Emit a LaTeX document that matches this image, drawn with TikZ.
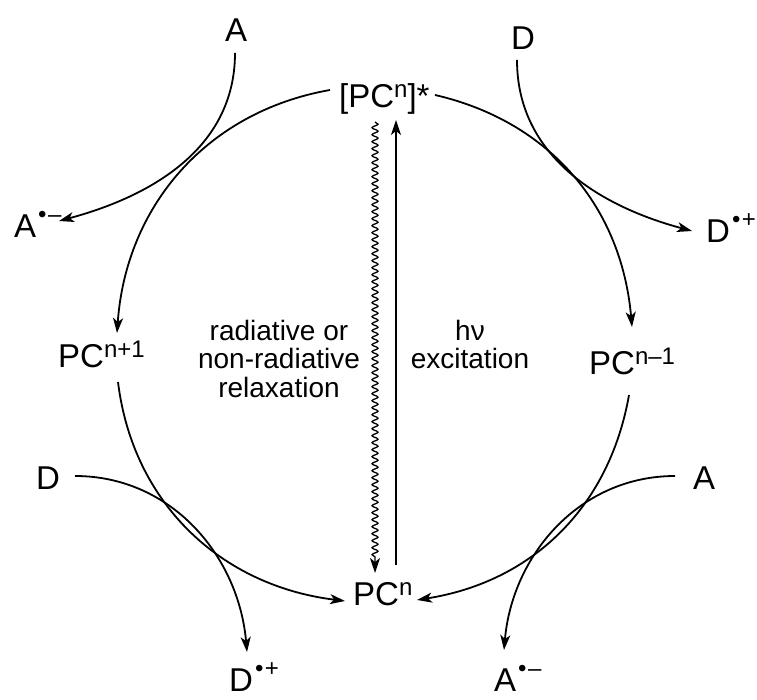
\documentclass[tikz,border=0pt]{standalone}
\usepackage{fontspec}
\setmainfont{Liberation Sans}
\usetikzlibrary{arrows.meta,decorations.pathmorphing}

\newcommand{\chsup}[1]{\raisebox{10pt}{\fontsize{24}{24}\selectfont #1}}
\newcommand{\rad}[1]{\raisebox{15pt}{\fontsize{24}{24}\selectfont\hspace{2pt}•\hspace{1.5pt}#1}}

\tikzset{
  species/.style={font=\fontsize{33}{36}\selectfont, inner sep=1pt, anchor=base west},
  note/.style={font=\fontsize{28}{28}\selectfont, align=center, inner sep=1pt},
  flow/.style={line width=1.8pt, -{Stealth[length=15pt,width=10pt,inset=4pt]}},
  wavy/.style={flow, line width=1.3pt, decorate, decoration={snake, amplitude=3pt, segment length=7pt, post length=15pt}}
}

\begin{document}
\begin{tikzpicture}[x=1pt,y=1pt]
\useasboundingbox (0,0) rectangle (757,700);

\node[species] (pcstar) at (338,592) {[PC\chsup{n}]*};
\node[species] (pcplus) at (57,332) {PC\chsup{n+1}};
\node[species] (pcminus) at (588,325) {PC\chsup{n–1}};
\node[species] (pcn) at (352,94) {PC\chsup{n}};
\node[species] (atop) at (224,658) {A};
\node[species] (dtop) at (510,650) {D};
\node[species] (aminus1) at (13,462) {A\rad{–}};
\node[species] (dplus1) at (705,457) {D\rad{+}};
\node[species] (dbot) at (35,210) {D};
\node[species] (abot) at (692,210) {A};
\node[species] (dplus2) at (228,8) {D\rad{+}};
\node[species] (aminus2) at (493,8) {A\rad{–}};
\node[note] (relax) at (279,341) {radiative or\\non-radiative\\relaxation};
\node[note] (excite) at (470,355) {hν\\excitation};

\draw[flow] ([shift={(-8,18)}]pcstar.base west) to[out=190,in=86] ([shift={(60,35)}]pcplus.base west);
\draw[flow] ([shift={(97,13)}]pcstar.base west) to[out=-13,in=95] ([shift={(44,48)}]pcminus.base west);
\draw[flow] ([shift={(61,-14)}]pcplus.base west) to[out=-83,in=173] ([shift={(-7,5)}]pcn.base west);
\draw[flow] ([shift={(41,-20)}]pcminus.base west) to[out=-100,in=9] ([shift={(65,6)}]pcn.base west);

\draw[flow] ([shift={(11,-11)}]atop.base west) to[out=-90,in=15] ([shift={(46,17)}]aminus1.base west);
\draw[flow] ([shift={(7,-10)}]dtop.base west) to[out=-90,in=165] ([shift={(-13,12)}]dplus1.base west);
\draw[flow] ([shift={(40,14)}]dbot.base west) to[out=0,in=95] ([shift={(19,40)}]dplus2.base west);
\draw[flow] ([shift={(-17,14)}]abot.base west) to[out=180,in=85] ([shift={(11,42)}]aminus2.base west);

\draw[wavy] ([shift={(37,-14)}]pcstar.base west) -- ([shift={(23,33)}]pcn.base west);
\draw[flow] ([shift={(44,41)}]pcn.base west) -- ([shift={(58,-12)}]pcstar.base west);
\end{tikzpicture}
\end{document}
